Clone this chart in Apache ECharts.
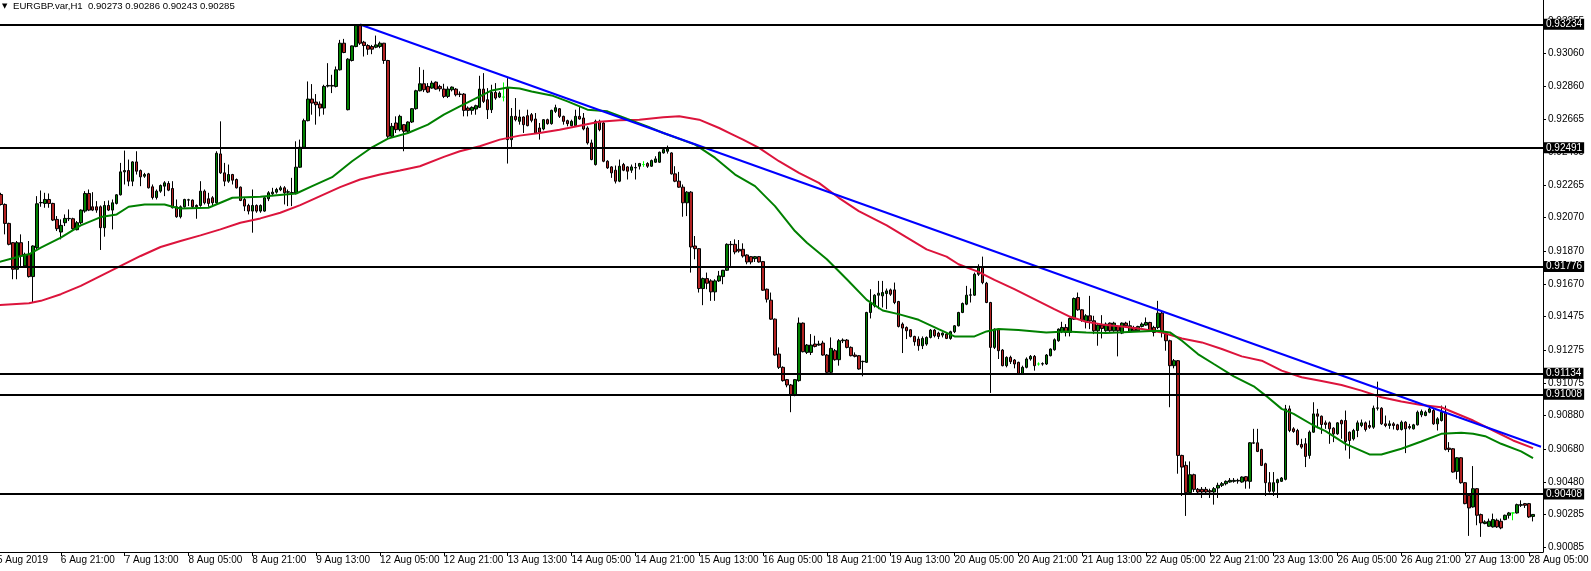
<!DOCTYPE html>
<html><head><meta charset="utf-8">
<script src="https://cdn.jsdelivr.net/npm/echarts@6/dist/echarts.min.js"></script>
<style>html,body{margin:0;padding:0;background:#fff}#c{width:1591px;height:571px}</style>
</head><body><div id="c"></div>
<script>
const header = 'EURGBP.var,H1  0.90273 0.90286 0.90243 0.90285';
const tickLabels = ['5 Aug 2019','6 Aug 21:00','7 Aug 13:00','8 Aug 05:00','8 Aug 21:00','9 Aug 13:00','12 Aug 05:00','12 Aug 21:00','13 Aug 13:00','14 Aug 05:00','14 Aug 21:00','15 Aug 13:00','16 Aug 05:00','18 Aug 21:00','19 Aug 13:00','20 Aug 05:00','20 Aug 21:00','21 Aug 13:00','22 Aug 05:00','22 Aug 21:00','23 Aug 13:00','26 Aug 05:00','26 Aug 21:00','27 Aug 13:00','28 Aug 05:00'];
const priceTicks = [0.93255,0.93060,0.92860,0.92665,0.92465,0.92265,0.92070,0.91870,0.91670,0.91475,0.91275,0.91075,0.90880,0.90680,0.90480,0.90285,0.90085];
const levels = [0.93234,0.92491,0.91776,0.91134,0.91008,0.90408];
const lastPrice = 0.90285;

const opens = [
0.92230,0.92210,0.92150,0.92036,0.91920,0.91760,0.91920,0.91780,0.91850,0.91716,
0.91890,0.92160,0.92156,0.92180,0.92156,0.92060,0.91984,0.92040,0.92064,0.92064,
0.91998,0.92040,0.92110,0.92216,0.92136,0.92136,0.92136,0.92010,0.92144,0.92116,
0.92156,0.92208,0.92346,0.92354,0.92290,0.92406,0.92354,0.92320,0.92334,0.92256,
0.92192,0.92230,0.92260,0.92276,0.92246,0.92136,0.92076,0.92136,0.92176,0.92176,
0.92144,0.92144,0.92230,0.92184,0.92190,0.92160,0.92454,0.92340,0.92290,0.92330,
0.92300,0.92254,0.92180,0.92144,0.92110,0.92144,0.92110,0.92110,0.92184,0.92214,
0.92224,0.92238,0.92250,0.92224,0.92222,0.92220,0.92374,0.92494,0.92654,0.92784,
0.92766,0.92754,0.92730,0.92862,0.92866,0.92860,0.92960,0.93120,0.92720,0.93016,
0.93100,0.93226,0.93126,0.93106,0.93100,0.93096,0.93100,0.93120,0.93016,0.92560,
0.92640,0.92600,0.92630,0.92590,0.92646,0.92726,0.92834,0.92876,0.92860,0.92850,
0.92886,0.92860,0.92844,0.92800,0.92840,0.92844,0.92814,0.92814,0.92730,0.92716,
0.92724,0.92734,0.92844,0.92780,0.92720,0.92824,0.92796,0.92796,0.92850,0.92540,
0.92680,0.92650,0.92676,0.92684,0.92690,0.92664,0.92610,0.92604,0.92660,0.92636,
0.92710,0.92726,0.92680,0.92654,0.92624,0.92624,0.92680,0.92670,0.92610,0.92520,
0.92390,0.92650,0.92640,0.92410,0.92376,0.92356,0.92290,0.92390,0.92376,0.92356,
0.92370,0.92380,0.92390,0.92396,0.92380,0.92404,0.92404,0.92460,0.92470,0.92460,
0.92334,0.92290,0.92254,0.92160,0.92224,0.91900,0.91884,0.91644,0.91704,0.91690,
0.91624,0.91690,0.91716,0.91754,0.91910,0.91910,0.91880,0.91880,0.91846,0.91836,
0.91824,0.91836,0.91806,0.91640,0.91574,0.91460,0.91250,0.91170,0.91096,0.91064,
0.91004,0.91090,0.91436,0.91260,0.91260,0.91310,0.91304,0.91316,0.91244,0.91140,
0.91270,0.91216,0.91330,0.91334,0.91290,0.91244,0.91240,0.91204,0.91200,0.91500,
0.91540,0.91604,0.91600,0.91614,0.91636,0.91636,0.91566,0.91430,0.91410,0.91396,
0.91356,0.91340,0.91300,0.91310,0.91350,0.91394,0.91376,0.91364,0.91370,0.91344,
0.91384,0.91420,0.91500,0.91550,0.91604,0.91604,0.91730,0.91770,0.91676,0.91560,
0.91290,0.91400,0.91274,0.91180,0.91230,0.91214,0.91200,0.91130,0.91170,0.91220,
0.91236,0.91190,0.91190,0.91190,0.91240,0.91276,0.91330,0.91384,0.91410,0.91380,
0.91460,0.91590,0.91516,0.91444,0.91480,0.91450,0.91390,0.91424,0.91390,0.91436,
0.91390,0.91416,0.91376,0.91436,0.91384,0.91410,0.91390,0.91416,0.91424,0.91440,
0.91410,0.91410,0.91496,0.91370,0.91330,0.91180,0.91210,0.90640,0.90580,0.90416,
0.90524,0.90436,0.90436,0.90436,0.90428,0.90420,0.90444,0.90460,0.90470,0.90480,
0.90484,0.90486,0.90480,0.90512,0.90484,0.90716,0.90716,0.90676,0.90590,0.90476,
0.90424,0.90476,0.90484,0.90496,0.90920,0.90800,0.90790,0.90706,0.90710,0.90640,
0.90780,0.90890,0.90876,0.90836,0.90836,0.90804,0.90770,0.90850,0.90850,0.90780,
0.90740,0.90790,0.90820,0.90836,0.90820,0.90810,0.90924,0.90924,0.90830,0.90820,
0.90830,0.90824,0.90796,0.90840,0.90814,0.90800,0.90824,0.90884,0.90880,0.90900,
0.90910,0.90830,0.90850,0.90900,0.90684,0.90680,0.90544,0.90626,0.90476,0.90400,
0.90330,0.90440,0.90284,0.90230,0.90214,0.90210,0.90250,0.90244,0.90254,0.90280,
0.90294,0.90294,0.90340,0.90350,0.90350,0.90273];
const highs = [
0.92250,0.92220,0.92156,0.92040,0.91924,0.91930,0.91970,0.91860,0.91930,0.91904,
0.92200,0.92234,0.92220,0.92216,0.92160,0.92080,0.92060,0.92090,0.92120,0.92070,
0.92050,0.92120,0.92230,0.92240,0.92224,0.92170,0.92144,0.92170,0.92174,0.92180,
0.92212,0.92400,0.92474,0.92420,0.92410,0.92470,0.92360,0.92340,0.92340,0.92270,
0.92240,0.92270,0.92290,0.92290,0.92290,0.92180,0.92144,0.92184,0.92184,0.92180,
0.92150,0.92290,0.92240,0.92220,0.92200,0.92470,0.92650,0.92400,0.92390,0.92334,
0.92306,0.92258,0.92194,0.92154,0.92240,0.92150,0.92150,0.92194,0.92230,0.92250,
0.92250,0.92262,0.92260,0.92240,0.92310,0.92530,0.92540,0.92666,0.92890,0.92874,
0.92814,0.92770,0.92870,0.93000,0.92930,0.92980,0.93140,0.93146,0.93030,0.93106,
0.93234,0.93234,0.93134,0.93114,0.93110,0.93166,0.93130,0.93122,0.93020,0.92640,
0.92680,0.92690,0.92634,0.92650,0.92730,0.92840,0.92976,0.92960,0.92880,0.92894,
0.92890,0.92870,0.92876,0.92860,0.92860,0.92850,0.92830,0.92820,0.92740,0.92740,
0.92750,0.92924,0.92940,0.92850,0.92870,0.92880,0.92830,0.92884,0.92910,0.92730,
0.92790,0.92720,0.92680,0.92720,0.92700,0.92700,0.92640,0.92664,0.92666,0.92720,
0.92750,0.92730,0.92684,0.92660,0.92660,0.92720,0.92740,0.92700,0.92620,0.92540,
0.92660,0.92660,0.92650,0.92416,0.92380,0.92384,0.92420,0.92400,0.92380,0.92390,
0.92400,0.92400,0.92410,0.92404,0.92420,0.92440,0.92468,0.92484,0.92504,0.92464,
0.92380,0.92346,0.92270,0.92230,0.92230,0.91960,0.91888,0.91710,0.91740,0.91700,
0.91700,0.91750,0.91756,0.91916,0.91930,0.91940,0.91936,0.91916,0.91850,0.91840,
0.91840,0.91840,0.91810,0.91644,0.91620,0.91464,0.91290,0.91176,0.91100,0.91070,
0.91100,0.91470,0.91440,0.91310,0.91370,0.91360,0.91330,0.91330,0.91250,0.91350,
0.91280,0.91340,0.91344,0.91340,0.91296,0.91260,0.91244,0.91210,0.91504,0.91640,
0.91610,0.91690,0.91690,0.91644,0.91644,0.91680,0.91570,0.91440,0.91416,0.91400,
0.91360,0.91356,0.91356,0.91356,0.91400,0.91400,0.91384,0.91380,0.91380,0.91390,
0.91424,0.91504,0.91560,0.91660,0.91644,0.91740,0.91790,0.91836,0.91684,0.91564,
0.91404,0.91404,0.91280,0.91236,0.91240,0.91220,0.91204,0.91180,0.91230,0.91244,
0.91244,0.91200,0.91200,0.91250,0.91284,0.91344,0.91404,0.91444,0.91430,0.91470,
0.91590,0.91620,0.91520,0.91490,0.91600,0.91480,0.91430,0.91484,0.91440,0.91440,
0.91444,0.91420,0.91440,0.91444,0.91450,0.91420,0.91420,0.91440,0.91470,0.91444,
0.91420,0.91570,0.91510,0.91380,0.91336,0.91220,0.91214,0.90644,0.90604,0.90604,
0.90530,0.90444,0.90450,0.90450,0.90440,0.90450,0.90476,0.90480,0.90490,0.90504,
0.90504,0.90500,0.90514,0.90516,0.90720,0.90800,0.90800,0.90680,0.90596,0.90540,
0.90540,0.90500,0.90510,0.90944,0.90940,0.90810,0.90800,0.90740,0.90744,0.90790,
0.90960,0.90920,0.90880,0.90850,0.90844,0.90810,0.90840,0.90856,0.90910,0.90784,
0.90800,0.90850,0.90856,0.90844,0.90850,0.90940,0.91084,0.90930,0.90880,0.90850,
0.90840,0.90830,0.90850,0.90846,0.90830,0.90830,0.90910,0.90916,0.90910,0.90930,
0.90920,0.90870,0.90940,0.90940,0.90720,0.90684,0.90630,0.90630,0.90480,0.90410,
0.90576,0.90444,0.90290,0.90250,0.90260,0.90290,0.90260,0.90260,0.90284,0.90300,
0.90294,0.90350,0.90370,0.90354,0.90354,0.90286];
const lows = [
0.92190,0.92144,0.91970,0.91904,0.91700,0.91700,0.91780,0.91770,0.91710,0.91560,
0.91880,0.92136,0.92130,0.92130,0.92050,0.91990,0.91940,0.92020,0.92050,0.91990,
0.91994,0.92030,0.92100,0.92110,0.92110,0.92100,0.91876,0.91956,0.92110,0.92000,
0.92150,0.92204,0.92270,0.92260,0.92260,0.92330,0.92260,0.92310,0.92246,0.92180,
0.92180,0.92220,0.92200,0.92230,0.92126,0.92070,0.92066,0.92130,0.92140,0.92124,
0.92064,0.92136,0.92150,0.92136,0.92140,0.92150,0.92334,0.92260,0.92280,0.92270,
0.92246,0.92170,0.92110,0.92090,0.91980,0.92100,0.92100,0.92106,0.92170,0.92200,
0.92215,0.92230,0.92150,0.92140,0.92140,0.92210,0.92370,0.92490,0.92650,0.92690,
0.92630,0.92680,0.92690,0.92854,0.92820,0.92854,0.92956,0.93060,0.92716,0.93010,
0.93096,0.93110,0.93040,0.93050,0.93054,0.93090,0.93090,0.92996,0.92550,0.92554,
0.92580,0.92590,0.92470,0.92580,0.92640,0.92720,0.92830,0.92826,0.92820,0.92846,
0.92840,0.92830,0.92790,0.92790,0.92830,0.92800,0.92796,0.92680,0.92680,0.92690,
0.92690,0.92730,0.92760,0.92664,0.92700,0.92780,0.92790,0.92770,0.92396,0.92496,
0.92650,0.92630,0.92580,0.92620,0.92644,0.92576,0.92540,0.92596,0.92630,0.92630,
0.92700,0.92670,0.92630,0.92620,0.92620,0.92620,0.92660,0.92596,0.92510,0.92416,
0.92384,0.92590,0.92404,0.92364,0.92310,0.92276,0.92284,0.92350,0.92300,0.92340,
0.92300,0.92360,0.92376,0.92370,0.92376,0.92400,0.92400,0.92456,0.92456,0.92330,
0.92284,0.92250,0.92076,0.92080,0.91740,0.91820,0.91620,0.91544,0.91640,0.91570,
0.91570,0.91684,0.91670,0.91750,0.91780,0.91850,0.91860,0.91830,0.91790,0.91790,
0.91804,0.91800,0.91630,0.91560,0.91456,0.91240,0.91160,0.91084,0.91050,0.90900,
0.90996,0.91084,0.91260,0.91250,0.91244,0.91290,0.91300,0.91240,0.91136,0.91136,
0.91210,0.91180,0.91316,0.91284,0.91236,0.91230,0.91156,0.91116,0.91196,0.91464,
0.91530,0.91520,0.91530,0.91520,0.91600,0.91550,0.91410,0.91256,0.91340,0.91350,
0.91300,0.91270,0.91280,0.91300,0.91344,0.91350,0.91340,0.91350,0.91340,0.91336,
0.91376,0.91416,0.91496,0.91544,0.91560,0.91600,0.91720,0.91670,0.91556,0.91016,
0.91280,0.91220,0.91176,0.91170,0.91190,0.91164,0.91126,0.91126,0.91164,0.91210,
0.91150,0.91180,0.91180,0.91184,0.91236,0.91270,0.91324,0.91376,0.91356,0.91356,
0.91456,0.91510,0.91444,0.91404,0.91400,0.91370,0.91300,0.91344,0.91384,0.91384,
0.91384,0.91236,0.91370,0.91410,0.91380,0.91384,0.91384,0.91410,0.91420,0.91384,
0.91356,0.91400,0.91350,0.91270,0.90930,0.91164,0.90530,0.90396,0.90276,0.90410,
0.90420,0.90410,0.90384,0.90410,0.90384,0.90344,0.90384,0.90450,0.90460,0.90476,
0.90476,0.90470,0.90476,0.90440,0.90440,0.90710,0.90660,0.90576,0.90396,0.90416,
0.90396,0.90384,0.90480,0.90490,0.90780,0.90776,0.90700,0.90680,0.90570,0.90620,
0.90776,0.90804,0.90770,0.90800,0.90710,0.90720,0.90764,0.90740,0.90670,0.90620,
0.90730,0.90750,0.90810,0.90784,0.90800,0.90800,0.90910,0.90824,0.90810,0.90800,
0.90796,0.90790,0.90790,0.90654,0.90796,0.90796,0.90820,0.90870,0.90876,0.90894,
0.90824,0.90790,0.90844,0.90670,0.90660,0.90536,0.90496,0.90470,0.90346,0.90156,
0.90326,0.90220,0.90150,0.90226,0.90210,0.90206,0.90204,0.90196,0.90250,0.90260,
0.90250,0.90290,0.90330,0.90324,0.90264,0.90243];
const closes = [
0.92210,0.92150,0.92036,0.91910,0.91760,0.91920,0.91840,0.91850,0.91716,0.91900,
0.92154,0.92162,0.92180,0.92156,0.92056,0.92004,0.92024,0.92066,0.92066,0.92004,
0.92040,0.92116,0.92216,0.92116,0.92116,0.92116,0.92010,0.92144,0.92116,0.92160,
0.92208,0.92346,0.92354,0.92290,0.92406,0.92350,0.92316,0.92330,0.92250,0.92192,
0.92230,0.92264,0.92280,0.92236,0.92130,0.92076,0.92136,0.92180,0.92178,0.92136,
0.92136,0.92230,0.92160,0.92156,0.92160,0.92458,0.92340,0.92290,0.92330,0.92296,
0.92250,0.92174,0.92140,0.92110,0.92144,0.92110,0.92144,0.92190,0.92220,0.92224,
0.92240,0.92250,0.92220,0.92226,0.92220,0.92374,0.92494,0.92654,0.92784,0.92760,
0.92750,0.92730,0.92860,0.92866,0.92862,0.92960,0.93120,0.93064,0.93024,0.93104,
0.93226,0.93120,0.93106,0.93084,0.93084,0.93110,0.93120,0.93016,0.92560,0.92620,
0.92600,0.92680,0.92590,0.92646,0.92726,0.92834,0.92876,0.92840,0.92826,0.92880,
0.92844,0.92846,0.92800,0.92844,0.92856,0.92810,0.92812,0.92716,0.92716,0.92734,
0.92744,0.92844,0.92770,0.92720,0.92824,0.92790,0.92820,0.92796,0.92540,0.92680,
0.92660,0.92676,0.92630,0.92624,0.92656,0.92580,0.92584,0.92660,0.92636,0.92716,
0.92732,0.92680,0.92650,0.92636,0.92650,0.92680,0.92664,0.92604,0.92520,0.92420,
0.92650,0.92600,0.92410,0.92370,0.92340,0.92290,0.92380,0.92356,0.92350,0.92376,
0.92372,0.92396,0.92390,0.92380,0.92414,0.92424,0.92464,0.92480,0.92484,0.92334,
0.92290,0.92254,0.92160,0.92224,0.91894,0.91884,0.91644,0.91704,0.91676,0.91624,
0.91690,0.91720,0.91754,0.91910,0.91908,0.91864,0.91870,0.91840,0.91804,0.91804,
0.91836,0.91804,0.91634,0.91580,0.91460,0.91244,0.91170,0.91090,0.91064,0.91004,
0.91096,0.91436,0.91264,0.91304,0.91304,0.91296,0.91310,0.91244,0.91140,0.91284,
0.91216,0.91330,0.91334,0.91290,0.91240,0.91236,0.91160,0.91206,0.91500,0.91556,
0.91604,0.91616,0.91620,0.91630,0.91610,0.91560,0.91416,0.91406,0.91390,0.91356,
0.91324,0.91300,0.91344,0.91350,0.91394,0.91360,0.91356,0.91376,0.91344,0.91384,
0.91420,0.91500,0.91554,0.91604,0.91606,0.91730,0.91770,0.91680,0.91560,0.91290,
0.91400,0.91270,0.91180,0.91230,0.91204,0.91190,0.91130,0.91170,0.91220,0.91236,
0.91180,0.91190,0.91192,0.91244,0.91280,0.91336,0.91400,0.91410,0.91380,0.91464,
0.91584,0.91516,0.91456,0.91480,0.91450,0.91390,0.91424,0.91404,0.91430,0.91390,
0.91436,0.91390,0.91436,0.91420,0.91420,0.91390,0.91416,0.91430,0.91440,0.91390,
0.91380,0.91496,0.91380,0.91330,0.91180,0.91210,0.90640,0.90570,0.90416,0.90524,
0.90436,0.90420,0.90420,0.90420,0.90420,0.90440,0.90460,0.90470,0.90484,0.90490,
0.90490,0.90490,0.90510,0.90486,0.90716,0.90714,0.90664,0.90580,0.90476,0.90424,
0.90476,0.90494,0.90504,0.90920,0.90790,0.90784,0.90706,0.90690,0.90634,0.90780,
0.90890,0.90876,0.90826,0.90826,0.90800,0.90770,0.90836,0.90830,0.90724,0.90730,
0.90790,0.90836,0.90836,0.90796,0.90810,0.90924,0.90926,0.90830,0.90820,0.90830,
0.90820,0.90796,0.90840,0.90800,0.90806,0.90824,0.90900,0.90904,0.90900,0.90920,
0.90830,0.90860,0.90900,0.90676,0.90676,0.90540,0.90626,0.90476,0.90350,0.90324,
0.90440,0.90280,0.90234,0.90240,0.90244,0.90254,0.90210,0.90204,0.90280,0.90294,
0.90294,0.90344,0.90344,0.90340,0.90270,0.90285];

// moving averages sampled at bar indices: [bar index, value]
const maFast = [[0,0.91800],[6,0.91840],[8,0.91850],[11,0.91890],[16,0.91950],[21,0.92024],[26,0.92074],[30,0.92090],[33,0.92136],[37,0.92150],[42,0.92150],[44,0.92136],[46,0.92126],[53,0.92130],[56,0.92160],[59,0.92190],[66,0.92196],[75,0.92216],[79,0.92260],[84,0.92314],[89,0.92410],[94,0.92494],[98,0.92546],[103,0.92580],[108,0.92630],[112,0.92690],[116,0.92740],[121,0.92800],[124,0.92836],[128,0.92854],[131,0.92848],[134,0.92830],[139,0.92806],[143,0.92770],[148,0.92720],[153,0.92710],[158,0.92664],[163,0.92620],[167,0.92580],[175,0.92510],[180,0.92430],[185,0.92330],[190,0.92260],[195,0.92140],[200,0.91990],[203,0.91920],[208,0.91820],[213,0.91700],[218,0.91576],[222,0.91512],[226,0.91490],[231,0.91456],[236,0.91400],[240,0.91356],[245,0.91356],[248,0.91386],[251,0.91400],[256,0.91394],[263,0.91380],[268,0.91386],[273,0.91380],[278,0.91376],[285,0.91384],[291,0.91390],[294,0.91380],[297,0.91330],[301,0.91250],[305,0.91190],[310,0.91116],[315,0.91056],[318,0.91000],[322,0.90920],[325,0.90890],[330,0.90820],[333,0.90786],[338,0.90710],[344,0.90646],[347,0.90646],[352,0.90680],[357,0.90724],[362,0.90770],[367,0.90776],[370,0.90770],[373,0.90756],[377,0.90710],[382,0.90664],[385,0.90624]];
const maSlow = [[0,0.91544],[8,0.91556],[11,0.91570],[16,0.91610],[21,0.91660],[26,0.91720],[31,0.91780],[36,0.91840],[41,0.91894],[46,0.91930],[51,0.91964],[56,0.92000],[61,0.92040],[66,0.92066],[71,0.92100],[76,0.92146],[81,0.92200],[86,0.92254],[91,0.92300],[96,0.92330],[101,0.92354],[106,0.92380],[112,0.92436],[116,0.92470],[121,0.92500],[126,0.92540],[131,0.92564],[136,0.92580],[141,0.92600],[146,0.92624],[151,0.92648],[156,0.92656],[161,0.92660],[167,0.92674],[171,0.92680],[176,0.92660],[181,0.92610],[184,0.92575],[187,0.92540],[191,0.92490],[196,0.92410],[201,0.92340],[206,0.92280],[211,0.92190],[216,0.92110],[223,0.92024],[233,0.91880],[238,0.91836],[241,0.91790],[246,0.91744],[250,0.91696],[255,0.91640],[260,0.91580],[265,0.91520],[269,0.91474],[273,0.91444],[278,0.91424],[282,0.91416],[287,0.91400],[292,0.91380],[297,0.91344],[302,0.91320],[307,0.91280],[312,0.91236],[317,0.91210],[322,0.91150],[327,0.91110],[332,0.91088],[337,0.91064],[342,0.91030],[347,0.90990],[352,0.90964],[357,0.90944],[362,0.90930],[365,0.90900],[370,0.90850],[375,0.90790],[380,0.90730],[385,0.90684]];
const trendLine = [[91,0.93233],[387,0.90692]];

const yMin = 0.90059, yMax = 0.93380;
const FONT = 'Liberation Sans';
const nCats = opens.length + 2;
const cats = Array.from({length: nCats}, (_, i) => String(i));
const candles = opens.map((o, i) => [o, closes[i], lows[i], highs[i]]);
const isTick = (c) => c % 16 === 0 && tickLabels[c / 16] !== undefined;

const levelLines = levels.map(v => ({yAxis: v}));
levelLines.push({yAxis: lastPrice, lineStyle: {opacity: 0, width: 0}});

const chart = echarts.init(document.getElementById('c'), null, {renderer: 'canvas'});
chart.setOption({
  animation: false,
  backgroundColor: '#fff',
  textStyle: {fontFamily: FONT},
  title: {
    text: '{t|▼}' + header,
    left: 2, top: 0, padding: 0,
    textStyle: {fontSize: 9.6, fontWeight: 'normal', color: '#000', fontFamily: FONT, lineHeight: 12,
      rich: {t: {fontSize: 7, fontFamily: 'DejaVu Sans', width: 11, color: '#000', lineHeight: 12}}}
  },
  grid: {left: -5, right: 48, top: 0, bottom: 19, containLabel: false, outerBoundsMode: 'none'},
  xAxis: {
    type: 'category', data: cats, boundaryGap: true,
    axisLine: {show: true, lineStyle: {color: '#000', width: 1}},
    axisTick: {show: true, alignWithLabel: true, length: 4, interval: (c) => isTick(c), lineStyle: {color: '#000'}},
    axisLabel: {interval: (c) => isTick(c), align: 'left', margin: 3, fontSize: 10, color: '#000', fontFamily: FONT,
      formatter: (v, c) => tickLabels[c / 16] || ''},
    splitLine: {show: false}
  },
  yAxis: {
    type: 'value', position: 'right', min: yMin, max: yMax, scale: true,
    axisLine: {show: true, lineStyle: {color: '#000', width: 1}},
    axisTick: {show: true, length: 3, customValues: priceTicks, lineStyle: {color: '#000'}},
    axisLabel: {customValues: priceTicks, margin: 5, fontSize: 10, color: '#000', fontFamily: FONT,
      formatter: (v) => v.toFixed(5)},
    splitLine: {show: false}
  },
  series: [
    {
      type: 'candlestick', data: candles, barWidth: 3, z: 2,
      itemStyle: {color: '#008000', color0: '#b22222', borderColor: '#000', borderColor0: '#000', borderColorDoji: '#00ff00', borderWidth: 1},
      markLine: {
        silent: true, symbol: ['none', 'none'], animation: false, precision: 5,
        lineStyle: {color: '#000', width: 2, type: 'solid'},
        label: {show: true, position: 'end', distance: 1, formatter: (p) => Number(p.value).toFixed(5),
          color: '#fff', backgroundColor: '#000', padding: [1, 2, 0, 2], fontSize: 10, fontFamily: FONT},
        data: levelLines
      }
    },
    {type: 'line', data: maSlow, symbol: 'none', lineStyle: {color: '#dc143c', width: 2}, silent: true, z: 3},
    {type: 'line', data: maFast, symbol: 'none', lineStyle: {color: '#008000', width: 2}, silent: true, z: 3},
    {type: 'line', data: trendLine, symbol: 'none', lineStyle: {color: '#0000ff', width: 2}, silent: true, z: 4}
  ]
});
</script>
</body></html>
